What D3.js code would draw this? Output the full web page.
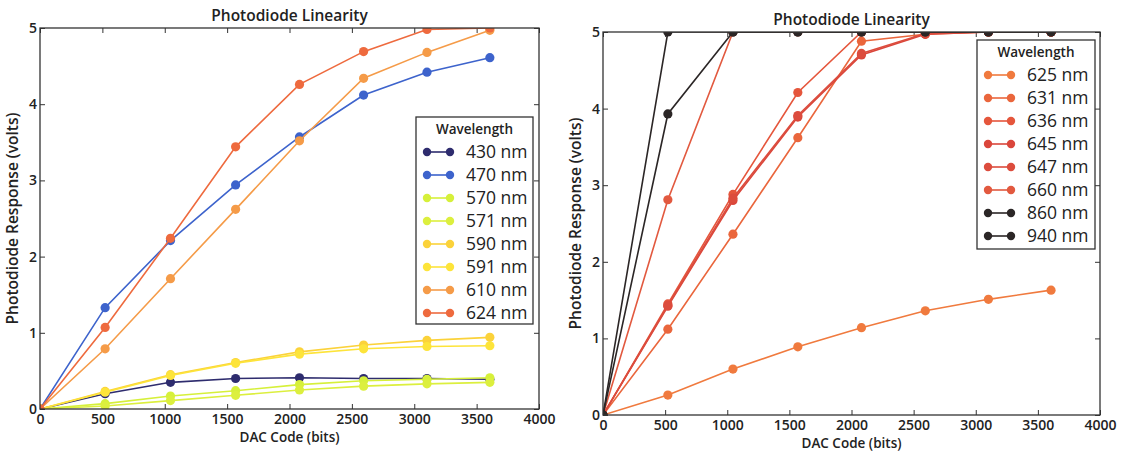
<!DOCTYPE html>
<html>
<head>
<meta charset="utf-8">
<script src="https://cdn.jsdelivr.net/npm/d3@7"></script>
<style>
  html, body { margin: 0; padding: 0; background: #fff; }
  svg { display: block; }
  text { font-family: "Open Sans", "DejaVu Sans", sans-serif; fill: #222; }
</style>
</head>
<body>
<svg id="chart" width="1130" height="452"></svg>
<script>
// DAC codes at which the photodiode was sampled
const dacCodes = [0, 522, 1046, 1568, 2080, 2594, 3102, 3606];
const xTicks = [0, 500, 1000, 1500, 2000, 2500, 3000, 3500, 4000];
const yTicks = [0, 1, 2, 3, 4, 5];

// Short-wavelength LEDs (volts)
const leftNames  = ["430 nm", "470 nm", "570 nm", "571 nm", "590 nm", "591 nm", "610 nm", "624 nm"];
const leftColors = ["#2e2c6e", "#3d63cc", "#d6f03a", "#dcef3e", "#fbd23a", "#fde43a", "#f59b48", "#ee6a3e"];
const v430 = [0, 0.20, 0.35, 0.40, 0.41, 0.40, 0.40, 0.39];
const v470 = [0, 1.33, 2.21, 2.94, 3.57, 4.12, 4.42, 4.61];
const v570 = [0, 0.07, 0.17, 0.24, 0.32, 0.37, 0.39, 0.41];
const v571 = [0, 0.04, 0.11, 0.18, 0.25, 0.30, 0.33, 0.35];
const v590 = [0, 0.23, 0.45, 0.61, 0.75, 0.84, 0.90, 0.94];
const v591 = [0, 0.22, 0.44, 0.60, 0.72, 0.79, 0.82, 0.83];
const v610 = [0, 0.79, 1.71, 2.62, 3.52, 4.34, 4.68, 4.97];
const v624 = [0, 1.07, 2.24, 3.44, 4.26, 4.69, 4.98, 5.00];
const leftValues = [v430, v470, v570, v571, v590, v591, v610, v624];

// Long-wavelength LEDs (volts)
const rightNames  = ["625 nm", "631 nm", "636 nm", "645 nm", "647 nm", "660 nm", "860 nm", "940 nm"];
const rightColors = ["#f07a3e", "#ea663c", "#e5563c", "#da463b", "#dc4c3d", "#e2593f", "#2b2626", "#2b2626"];
const v625 = [0, 0.26, 0.60, 0.89, 1.14, 1.36, 1.51, 1.63];
const v631 = [0, 1.12, 2.36, 3.62, 4.88, 4.97, 5.00, 5.00];
const v636 = [0, 1.45, 2.88, 4.21, 5.00, 5.00, 5.00, 5.00];
const v645 = [0, 1.42, 2.80, 3.89, 4.70, 4.97, 5.00, 5.00];
const v647 = [0, 1.43, 2.83, 3.91, 4.72, 4.98, 5.00, 5.00];
const v660 = [0, 2.81, 5.00, 5.00, 5.00, 5.00, 5.00, 5.00];
const v860 = [0, 5.00, 5.00, 5.00, 5.00, 5.00, 5.00, 5.00];
const v940 = [0, 3.93, 5.00, 5.00, 5.00, 5.00, 5.00, 5.00];
const rightValues = [v625, v631, v636, v645, v647, v660, v860, v940];

const svg = d3.select("#chart");

function drawPanel(cfg) {
  const { id, x0, x1, yTop, yBottom, names, colors, values, legend, titleY } = cfg;
  const x = d3.scaleLinear().domain([0, 4000]).range([x0, x1]);
  const y = d3.scaleLinear().domain([0, 5]).range([yBottom, yTop]);
  const g = svg.append("g");

  // clip marks to the axes box
  g.append("clipPath").attr("id", "clip-" + id)
    .append("rect").attr("x", x0).attr("y", yTop).attr("width", x1 - x0).attr("height", yBottom - yTop);

  const tickFmt = d3.format("d");
  const axisStyle = sel => {
    sel.select(".domain").remove();
    sel.selectAll(".tick line").attr("stroke", "#333").attr("stroke-width", 1);
    sel.selectAll(".tick text").attr("font-size", 14).attr("font-weight", 600)
      .attr("font-family", "'Open Sans', 'DejaVu Sans', sans-serif").attr("fill", "#222");
  };

  // bottom axis with labels, ticks pointing inward
  g.append("g").attr("transform", `translate(0,${yBottom})`)
    .call(d3.axisBottom(x).tickValues(xTicks).tickFormat(tickFmt).tickSizeInner(-5).tickSizeOuter(0).tickPadding(5))
    .call(axisStyle);
  // top axis: ticks only
  g.append("g").attr("transform", `translate(0,${yTop})`)
    .call(d3.axisTop(x).tickValues(xTicks).tickFormat("").tickSizeInner(-5).tickSizeOuter(0))
    .call(axisStyle);
  // left axis with labels
  g.append("g").attr("transform", `translate(${x0},0)`)
    .call(d3.axisLeft(y).tickValues(yTicks).tickFormat(tickFmt).tickSizeInner(-5).tickSizeOuter(0).tickPadding(3))
    .call(axisStyle);
  // right axis: ticks only
  g.append("g").attr("transform", `translate(${x1},0)`)
    .call(d3.axisRight(y).tickValues(yTicks).tickFormat("").tickSizeInner(-5).tickSizeOuter(0))
    .call(axisStyle);

  // series
  const line = d3.line().x((d, i) => x(dacCodes[i])).y(d => y(d));
  const marks = g.append("g").attr("clip-path", `url(#clip-${id})`);
  values.forEach((vals, k) => {
    const s = marks.append("g");
    s.append("path").datum(vals).attr("d", line)
      .attr("fill", "none").attr("stroke", colors[k]).attr("stroke-width", 1.6);
    s.selectAll("circle").data(vals).join("circle")
      .attr("cx", (d, i) => x(dacCodes[i])).attr("cy", d => y(d)).attr("r", 4.6)
      .attr("fill", colors[k]);
  });

  // axes frame
  g.append("rect").attr("x", x0).attr("y", yTop).attr("width", x1 - x0).attr("height", yBottom - yTop)
    .attr("fill", "none").attr("stroke", "#333").attr("stroke-width", 1.3);

  // titles
  g.append("text").attr("x", (x0 + x1) / 2).attr("y", titleY).attr("text-anchor", "middle")
    .attr("font-size", 15.5).attr("font-weight", 600).text("Photodiode Linearity");
  g.append("text").attr("x", (x0 + x1) / 2).attr("y", yBottom + 33).attr("text-anchor", "middle")
    .attr("font-size", 13.5).attr("font-weight", 600).text("DAC Code (bits)");
  g.append("text")
    .attr("transform", `translate(${x0 - 22},${(yTop + yBottom) / 2}) rotate(-90)`)
    .attr("text-anchor", "middle").attr("font-size", 15.5).attr("font-weight", 600)
    .text("Photodiode Response (volts)");

  // legend
  const L = legend;
  const lg = g.append("g");
  lg.append("rect").attr("x", L.x).attr("y", L.y).attr("width", L.w).attr("height", L.h)
    .attr("fill", "#fff").attr("stroke", "#333").attr("stroke-width", 1.3);
  lg.append("text").attr("x", L.x + L.w / 2).attr("y", L.y + 17).attr("text-anchor", "middle")
    .attr("font-size", 13.5).attr("font-weight", 600).text("Wavelength");
  names.forEach((name, k) => {
    const cy = L.y + 35 + k * 23;
    lg.append("line").attr("x1", L.x + 11).attr("x2", L.x + 34).attr("y1", cy).attr("y2", cy)
      .attr("stroke", colors[k]).attr("stroke-width", 1.6);
    [L.x + 11, L.x + 34].forEach(cx => lg.append("circle").attr("cx", cx).attr("cy", cy).attr("r", 4.2).attr("fill", colors[k]));
    lg.append("text").attr("x", L.x + 50).attr("y", cy).attr("dy", "0.36em")
      .attr("font-size", 17.5).attr("font-weight", 500).text(name);
  });
}

drawPanel({
  id: "left", x0: 40, x1: 539, yTop: 28, yBottom: 409,
  names: leftNames, colors: leftColors, values: leftValues, titleY: 21,
  legend: { x: 416, y: 117, w: 117, h: 207 }
});

drawPanel({
  id: "right", x0: 603, x1: 1100, yTop: 32, yBottom: 415,
  names: rightNames, colors: rightColors, values: rightValues, titleY: 25,
  legend: { x: 977, y: 40, w: 118, h: 209 }
});
</script>
</body>
</html>
